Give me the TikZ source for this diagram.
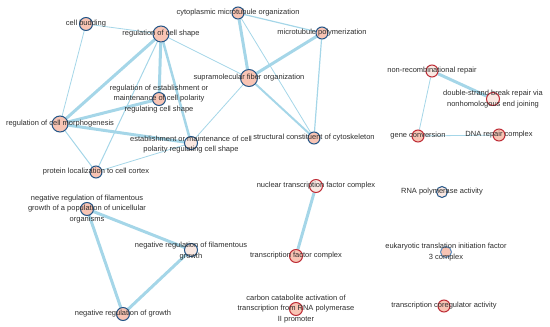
\documentclass[tikz,border=0pt]{standalone}
\usepackage{fontspec}
\setmainfont{Liberation Sans}
\usetikzlibrary{backgrounds}
\definecolor{edgec}{RGB}{165,214,232}
\definecolor{salmon}{RGB}{248,196,180}
\definecolor{pale}{RGB}{250,232,226}
\definecolor{bborder}{RGB}{35,85,135}
\definecolor{lborder}{RGB}{90,140,190}
\definecolor{rborder}{RGB}{190,45,55}
\definecolor{txt}{RGB}{45,45,45}
\begin{document}
\begin{tikzpicture}[x=1pt,y=-1pt,
  gnode/.style={circle,inner sep=0pt,line width=1pt,fill=salmon},
  bn/.style={gnode,draw=bborder},
  rn/.style={gnode,draw=rborder},
  lab/.style={text=txt,font=\fontsize{7.5}{10.5}\selectfont,align=center,inner sep=0pt},
  ed/.style={draw=edgec,line width=#1},
]
\useasboundingbox (0,0) rectangle (550,327);
% nodes
\node[bn,minimum size=13pt] (bud) at (86,24) {};
\node[bn,minimum size=16pt] (shape) at (161,34) {};
\node[bn,minimum size=13pt] (regest) at (159,99) {};
\node[bn,minimum size=16pt] (morph) at (60,124) {};
\node[bn,minimum size=13pt,fill=pale] (estm) at (191,143) {};
\node[bn,minimum size=17pt] (supra) at (249,78) {};
\node[bn,minimum size=12pt] (cyto) at (238,13) {};
\node[bn,minimum size=12pt] (micro) at (322,33) {};
\node[bn,minimum size=12pt] (struct) at (314,138) {};
\node[bn,minimum size=12pt] (prot) at (96,172) {};
\node[bn,minimum size=13pt] (negpop) at (87,209) {};
\node[bn,minimum size=13pt,fill=pale] (negfil) at (191,250) {};
\node[bn,minimum size=13pt] (neggr) at (123,314) {};
\node[rn,minimum size=12pt,fill=pale] (nonrec) at (432,71) {};
\node[rn,minimum size=13pt,fill=pale] (dsb) at (493,99) {};
\node[rn,minimum size=12pt] (gene) at (418,136) {};
\node[rn,minimum size=12pt] (dna) at (499,135) {};
\node[rn,minimum size=13pt,fill=pale] (nuctf) at (316,186) {};
\node[rn,minimum size=13pt] (tf) at (296,256) {};
\node[rn,minimum size=13pt] (carbon) at (296,309) {};
\node[bn,minimum size=11pt,fill=pale] (rna) at (442,192) {};
\node[gnode,draw=lborder,minimum size=11pt] (euk) at (446,252) {};
\node[rn,minimum size=12pt] (coreg) at (444,306) {};
% edges
\begin{scope}[on background layer]
\path[ed=0.8] (bud) -- (shape);
\path[ed=0.8] (bud) -- (morph);
\path[ed=3] (shape) -- (morph);
\path[ed=3] (shape) -- (regest);
\path[ed=2.5] (shape) -- (estm);
\path[ed=1] (shape) -- (prot);
\path[ed=0.8] (shape) -- (supra);
\path[ed=3] (morph) -- (regest);
\path[ed=3] (morph) -- (estm);
\path[ed=1] (morph) -- (prot);
\path[ed=0.8] (estm) -- (prot);
\path[ed=0.8] (estm) -- (supra);
\path[ed=3] (supra) -- (cyto);
\path[ed=3] (supra) -- (micro);
\path[ed=2] (supra) -- (struct);
\path[ed=1.2] (cyto) -- (micro);
\path[ed=0.8] (cyto) -- (struct);
\path[ed=1.2] (micro) -- (struct);
\path[ed=3] (nonrec) -- (dsb);
\path[ed=0.8] (nonrec) -- (gene);
\path[ed=0.8] (gene) -- (dna);
\path[ed=3] (nuctf) -- (tf);
\path[ed=3] (negpop) -- (negfil);
\path[ed=3] (negpop) -- (neggr);
\path[ed=3] (negfil) -- (neggr);
\end{scope}
% labels
\node[lab] (lbud) at (bud) {cell budding};
\node[lab] (lshape) at (shape) {regulation of cell shape};
\node[lab] (lregest) at (regest) {regulation of establishment or\\maintenance of cell polarity\\regulating cell shape};
\node[lab] (lmorph) at (morph) {regulation of cell morphogenesis};
\node[lab] (lestm) at (191,144.5) {establishment or maintenance of cell\\polarity regulating cell shape};
\node[lab] (lsupra) at (supra) {supramolecular fiber organization};
\node[lab] (lcyto) at (cyto) {cytoplasmic microtubule organization};
\node[lab] (lmicro) at (micro) {microtubule polymerization};
\node[lab] (lstruct) at (struct) {structural constituent of cytoskeleton};
\node[lab] (lprot) at (prot) {protein localization to cell cortex};
\node[lab] (lnegpop) at (negpop) {negative regulation of filamentous\\growth of a population of unicellular\\organisms};
\node[lab] (lnegfil) at (191,251) {negative regulation of filamentous\\growth};
\node[lab] (lneggr) at (neggr) {negative regulation of growth};
\node[lab] (lnonrec) at (nonrec) {non-recombinational repair};
\node[lab] (ldsb) at (dsb) {double-strand break repair via\\nonhomologous end joining};
\node[lab] (lgene) at (gene) {gene conversion};
\node[lab] (ldna) at (dna) {DNA repair complex};
\node[lab] (lnuctf) at (nuctf) {nuclear transcription factor complex};
\node[lab] (ltf) at (tf) {transcription factor complex};
\node[lab] (lcarbon) at (carbon) {carbon catabolite activation of\\transcription from RNA polymerase\\II promoter};
\node[lab] (lrna) at (rna) {RNA polymerase activity};
\node[lab] (leuk) at (446,252) {eukaryotic translation initiation factor\\3 complex};
\node[lab] (lcoreg) at (coreg) {transcription coregulator activity};
\end{tikzpicture}
\end{document}
